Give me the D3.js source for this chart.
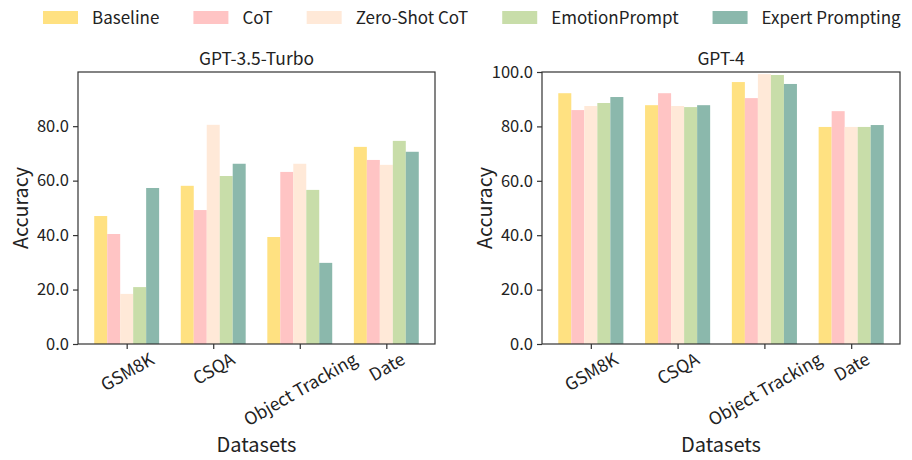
<!DOCTYPE html>
<html>
<head>
<meta charset="utf-8">
<script src="https://cdn.jsdelivr.net/npm/d3@7"></script>
<style>
  body { margin: 0; background: #fff; }
  svg { font-family: "Noto Sans CJK SC", "Noto Sans", sans-serif; }
</style>
</head>
<body>
<svg id="chart" width="912" height="460"></svg>
<script>
const datasets = ["GSM8K", "CSQA", "Object Tracking", "Date"];
const methods = ["Baseline", "CoT", "Zero-Shot CoT", "EmotionPrompt", "Expert Prompting"];
const colors = ["#FFE181", "#FFC4C4", "#FFE9D8", "#C8DDA9", "#8BB8AC"];

// accuracy per method, ordered like datasets
const gpt35 = [
    [47.0, 58.1, 39.3, 72.4],
    [40.4, 49.2, 63.2, 67.6],
    [18.4, 80.5, 66.2, 65.8],
    [20.9, 61.7, 56.6, 74.6],
    [57.3, 66.2, 29.8, 70.6]
];
const gpt4 = [
    [92.2, 87.8, 96.3, 79.8],
    [86.0, 92.2, 90.4, 85.6],
    [87.5, 87.5, 99.2, 79.8],
    [88.6, 87.1, 98.9, 79.8],
    [90.8, 87.8, 95.6, 80.5]
];
const yTicks35 = [0, 20, 40, 60, 80];
const yTicks4 = [0, 20, 40, 60, 80, 100];

const svg = d3.select("#chart");
const barW = 0.15;

function drawPanel(opts) {
    const {left, right, top, bottom, title, values, ticks, yMax} = opts;
    const x = d3.scaleLinear().domain([-0.5625, 3.5625]).range([left, right]);
    const y = d3.scaleLinear().domain([0, yMax]).range([bottom, top]);
    const g = svg.append("g");

    methods.forEach((m, i) => {
        g.selectAll(null)
            .data(values[i])
            .enter().append("rect")
            .attr("x", (d, j) => x(j + (i - 2) * barW - barW / 2))
            .attr("width", x(barW) - x(0))
            .attr("y", d => y(d))
            .attr("height", d => y(0) - y(d))
            .attr("fill", colors[i]);
    });

    // frame
    g.append("rect")
        .attr("x", left).attr("y", top)
        .attr("width", right - left).attr("height", bottom - top)
        .attr("fill", "none").attr("stroke", "#333").attr("stroke-width", 1.2);

    const yAxis = g.append("g")
        .attr("transform", `translate(${left},0)`)
        .call(d3.axisLeft(y).tickValues(ticks).tickFormat(d3.format(".1f")).tickSize(5).tickPadding(4));
    yAxis.select(".domain").remove();
    yAxis.selectAll("line").attr("stroke", "#333").attr("stroke-width", 1.2);
    yAxis.selectAll("text").attr("font-size", 16.5).attr("fill", "#222")
        .attr("font-family", "Noto Sans CJK SC");

    const xAxis = g.append("g")
        .attr("transform", `translate(0,${bottom})`)
        .call(d3.axisBottom(x).tickValues([0, 1, 2, 3]).tickFormat("").tickSize(5));
    xAxis.select(".domain").remove();
    xAxis.selectAll("line").attr("stroke", "#333").attr("stroke-width", 1.2);

    // rotated dataset labels, centred on tick, top edge just under the axis
    datasets.forEach((name, j) => {
        const t = g.append("text")
            .attr("font-size", 17.5).attr("fill", "#222")
            .attr("text-anchor", "middle")
            .attr("dominant-baseline", "central")
            .text(name);
        const w = t.node().getComputedTextLength();
        const span = w * 0.5 + 7;
        const cy = bottom + 9 + span / 2;
        t.attr("transform", `translate(${x(j)},${cy}) rotate(-30)`);
    });

    g.append("text")
        .attr("x", (left + right) / 2).attr("y", top - 7)
        .attr("text-anchor", "middle")
        .attr("font-size", 17.4).attr("fill", "#222")
        .text(title);

    g.append("text")
        .attr("transform", `translate(${left - 50},${(top + bottom) / 2}) rotate(-90)`)
        .attr("text-anchor", "middle")
        .attr("font-size", 19.7).attr("fill", "#222")
        .text("Accuracy");

    g.append("text")
        .attr("x", (left + right) / 2).attr("y", 452)
        .attr("text-anchor", "middle")
        .attr("font-size", 20).attr("fill", "#222")
        .text("Datasets");
}

drawPanel({left: 78, right: 435, top: 72, bottom: 344, title: "GPT-3.5-Turbo",
    values: gpt35, ticks: yTicks35, yMax: 99.9});
drawPanel({left: 542, right: 900, top: 72, bottom: 344, title: "GPT-4",
    values: gpt4, ticks: yTicks4, yMax: 100});

// legend
const legend = svg.append("g");
let lx = 43;
methods.forEach((m, i) => {
    legend.append("rect")
        .attr("x", lx).attr("y", 11)
        .attr("width", 35).attr("height", 13)
        .attr("fill", colors[i]);
    const t = legend.append("text")
        .attr("x", lx + 49).attr("y", 24)
        .attr("font-size", 17).attr("fill", "#222")
        .text(m);
    lx = lx + 49 + t.node().getComputedTextLength() + 34;
});
</script>
</body>
</html>
